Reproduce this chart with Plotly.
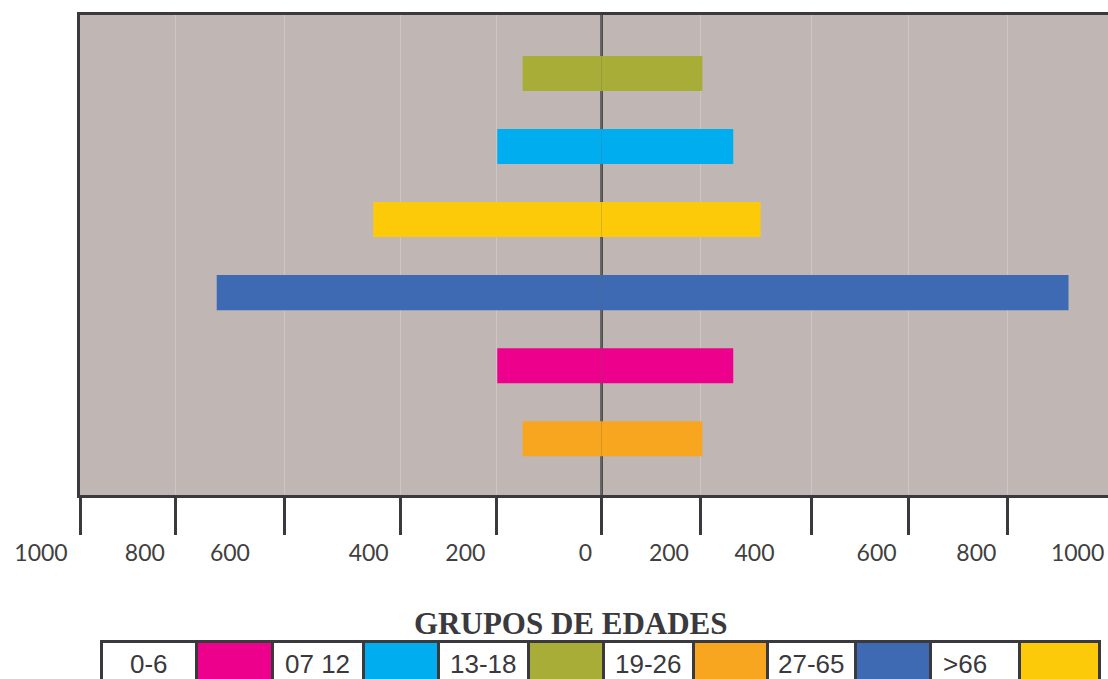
import plotly.graph_objects as go

# ---- data ----
categories = ["19-26", "0-6", "27-65", ">66", "07 12", "13-18"]   # bottom -> top
left_values = [156, 206, 760, 451, 206, 156]      # extent to the left of 0
right_values = [199, 260, 922, 314, 260, 199]     # extent to the right of 0
bar_colors = ["#f8a51f", "#ec008c", "#3d6ab3", "#fdca0a", "#00aeef", "#a8ad38"]

tick_marks = [-1030, -842, -627, -398, -207, 0, 195, 415, 606, 801]
tick_label_pos = [-1107, -902, -734, -460, -269, -32, 133, 302, 543, 740, 940]
tick_labels = ["1000", "800", "600", "400", "200", "0", "200", "400", "600", "800", "1000"]

legend_labels = ["0-6", "07 12", "13-18", "19-26", "27-65", ">66"]
legend_colors = ["#ec008c", "#00aeef", "#a8ad38", "#f8a51f", "#3d6ab3", "#fdca0a"]
legend_title = "GRUPOS DE EDADES"

# ---- figure ----
W, H = 1108, 679
ML, MT, MB = 0, 15, 0
PH = H - MT - MB
DARK = "#3a393d"
BG = "#c0b7b4"

def px_x(p):
    return (p - ML) / W

def px_y(p):
    return (H - MB - p) / PH

fig = go.Figure()

fig.add_trace(go.Bar(
    y=categories, x=[-v for v in left_values], orientation="h",
    marker=dict(color=bar_colors, line=dict(width=0)), width=0.48,
    showlegend=False, hoverinfo="skip"))
fig.add_trace(go.Bar(
    y=categories, x=right_values, orientation="h",
    marker=dict(color=bar_colors, line=dict(width=0)), width=0.48,
    showlegend=False, hoverinfo="skip"))

# helper (empty) trace to host the label axis
fig.add_trace(go.Scatter(x=[], y=[], xaxis="x2", yaxis="y", showlegend=False,
                         hoverinfo="skip"))

# legend as a one-row table (cells and fills), labels as annotations
cells_fill = []
for col in legend_colors:
    cells_fill += ["white", col]
col_widths = [95, 76, 91, 75, 90, 75, 90, 74, 88, 75, 89, 80]
table_left = 101

fig.add_trace(go.Table(
    domain=dict(x=[px_x(table_left), px_x(1099)], y=[0, px_y(641)]),
    columnwidth=col_widths,
    header=dict(values=[""] * len(cells_fill),
                fill=dict(color=cells_fill),
                line=dict(color=DARK, width=3),
                height=70),
    cells=dict(values=[[] for _ in cells_fill],
               line=dict(color=DARK, width=3)),
))

annotations = [dict(
    text="<b>" + legend_title + "</b>", xref="paper", yref="paper",
    x=px_x(571), y=px_y(623), xanchor="center", yanchor="middle",
    showarrow=False,
    font=dict(family="Liberation Serif", size=31, color=DARK),
)]
edges = [table_left]
for w in col_widths:
    edges.append(edges[-1] + w)
for i, lab in enumerate(legend_labels):
    c0, c1 = edges[2 * i], edges[2 * i + 1]
    if lab.startswith(">"):
        xa, anchor = c0 + 11, "left"
    else:
        xa, anchor = (c0 + c1) / 2, "center"
    annotations.append(dict(
        text=lab.replace(">", "&gt;"), xref="paper", yref="paper",
        x=px_x(xa), y=px_y(664), xanchor=anchor, yanchor="middle",
        showarrow=False,
        font=dict(family="Liberation Sans", size=26, color=DARK),
    ))

x_range = [-1030, 1000]
k = (W - 80) / (x_range[1] - x_range[0])
x2_range = [x_range[0] - (80 - ML) / k, x_range[1]]

fig.update_layout(
    width=W, height=H,
    margin=dict(l=ML, r=0, t=MT, b=MB, pad=0),
    paper_bgcolor="white",
    plot_bgcolor="rgba(0,0,0,0)",
    barmode="relative",
    xaxis=dict(
        domain=[px_x(80), 1], range=x_range, anchor="y",
        tickvals=tick_marks, showticklabels=False,
        ticks="outside", ticklen=37, tickwidth=2.5, tickcolor=DARK,
        showline=True, linewidth=3, linecolor=DARK, mirror=True,
        showgrid=True, gridcolor="rgba(255,255,255,0.22)", gridwidth=1,
        zeroline=False,
    ),
    xaxis2=dict(
        domain=[0, 1], range=x2_range, anchor="y",
        tickvals=tick_label_pos, ticktext=tick_labels,
        ticks="", showline=False, showgrid=False, zeroline=False,
        tickfont=dict(family="Lato", size=23, color="#404040"),
        ticklabelstandoff=42,
    ),
    yaxis=dict(
        domain=[px_y(495), 1], range=[-0.77, 5.8], anchor="x",
        type="category", categoryorder="array", categoryarray=categories,
        showticklabels=False, ticks="", showgrid=False, zeroline=False,
        showline=True, linewidth=3, linecolor=DARK, mirror=False,
    ),
    shapes=[
        dict(type="rect", xref="x domain", yref="y domain",
             x0=0, x1=1, y0=0, y1=1, fillcolor=BG,
             line=dict(width=0), layer="below"),
        # zero (centre) line, beneath the bars
        dict(type="line", xref="x", yref="y domain",
             x0=0, x1=0, y0=0, y1=1,
             line=dict(color=DARK, width=2.5), layer="below"),
    ],
    annotations=annotations,
)

fig.write_html("out.html",
               config={"displayModeBar": False},
               post_script="document.body.style.margin='0';"
                           "document.body.style.overflow='hidden';")
